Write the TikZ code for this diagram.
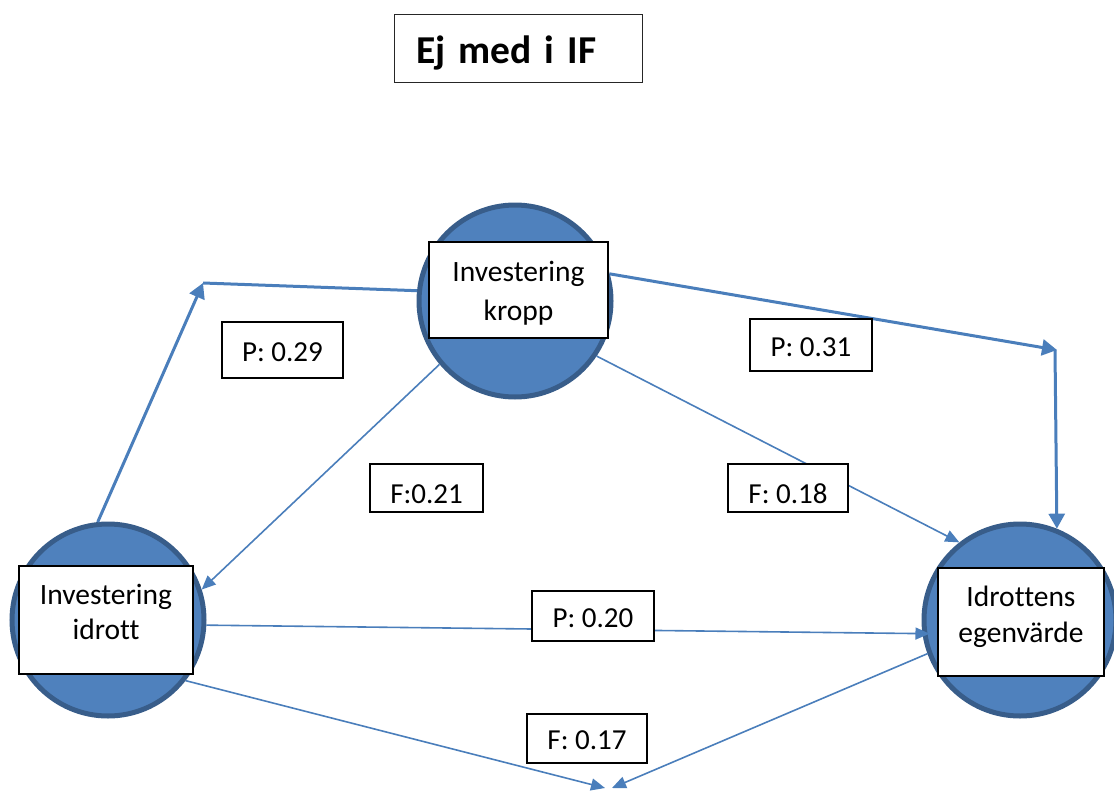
\documentclass[tikz,border=0pt]{standalone}
\usepackage{fontspec}
\setmainfont{Carlito}[Ligatures=NoCommon]
\usetikzlibrary{arrows.meta}
\definecolor{fillb}{HTML}{4F81BD}
\definecolor{rimb}{HTML}{385D8A}
\definecolor{conb}{HTML}{4A7EBB}
\tikzset{
  circ/.style={circle, fill=fillb, draw=rimb, line width=5pt, minimum size=192pt, inner sep=0pt},
  kbox/.style={rectangle, fill=white, draw=black, line width=1.2pt, align=center, inner sep=0pt,
               text height=56pt, text depth=17pt, font=\fontsize{29.5}{35.5}\selectfont},
  lab/.style={rectangle, fill=white, draw=black, line width=1.2pt, inner sep=0pt, text height=22pt, text depth=0pt, font=\fontsize{29}{35}\selectfont},
  conT/.style={draw=conb, line width=3pt, -{Triangle[length=15pt, width=16pt]}},
  conN/.style={draw=conb, line width=1.6pt, -{Triangle[length=14pt, width=12pt]}}
}

\begin{document}
\begin{tikzpicture}[x=1pt, y=-1pt]
  \useasboundingbox (0,0) rectangle (1114,792);
  \node[draw=black!85, line width=1pt, minimum height=68pt, text width=204pt, inner xsep=22pt, inner ysep=0pt,
        text height=30pt, text depth=0pt, font=\fontsize{39.5}{46}\selectfont\bfseries] (title) at (518,49) {Ej med i IF};

  % circles and their text boxes
  \node[circ] (T) at (515,301) {};
  \node[circ] (L) at (108,620) {};
  \node[circ] (R) at (1020,620) {};
  \node[kbox, minimum width=179pt, minimum height=96pt, text height=60pt, text depth=0pt, font=\fontsize{29.5}{39}\selectfont] (Tb) at (518.5,290) {Investering\\kropp};
  \node[kbox, minimum width=174pt, minimum height=108pt] (Lb) at (106,620) {Investering\\idrott};
  \node[kbox, minimum width=166pt, minimum height=108pt, text depth=16pt] (Rb) at (1021,622) {Idrottens\\egenvärde};

  \coordinate (cL) at (203,283);
  \coordinate (cR) at (1057,350);
  \coordinate (bL) at (605,788);
  \coordinate (bR) at (612,788);

  % connectors
  \draw[conT, -] (T.174) -- (cL);
  \draw[conT] (L.96) -- (cL);
  \draw[conT] (T.16) -- (cR);
  \draw[conT] ([xshift=-2pt]cR) -- (R.68);
  \draw[conN] (T.220) -- (L.18);
  \draw[conN] (T.326) -- (R.128);
  \draw[conN] (L.357) -- ([xshift=7pt]R.188);
  \draw[conN] (L.322) -- (bL);
  \draw[conN] (R.200) -- (bR);

  % labels
  \node[lab, minimum width=121pt, minimum height=56pt] (p29) at (282.5,350) {P: 0.29};
  \node[lab, minimum width=122pt, minimum height=52pt] (p31) at (811,345) {P: 0.31};
  \node[lab, minimum width=113pt, minimum height=48pt, text height=30pt] (f21) at (426.5,488) {F:0.21};
  \node[lab, minimum width=120pt, minimum height=48pt, text height=30pt] (f18) at (788,488) {F: 0.18};
  \node[lab, minimum width=122pt, minimum height=50pt] (p20) at (593,616) {P: 0.20};
  \node[lab, minimum width=120pt, minimum height=49pt] (f17) at (587,738.5) {F: 0.17};
\end{tikzpicture}
\end{document}
